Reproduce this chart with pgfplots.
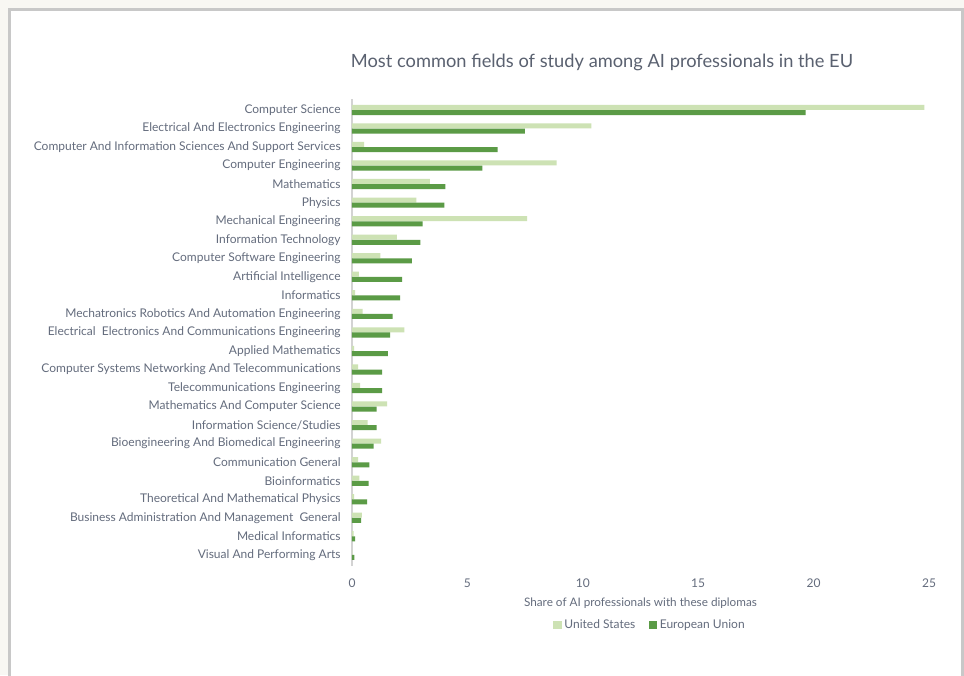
\documentclass[border=0pt]{standalone}
\usepackage{pgfplots}
\pgfplotsset{compat=1.18}
\usepackage{pgfplotstable}
\usepackage{fontspec}
\setmainfont{Lato}

\definecolor{usgreen}{RGB}{205,226,180}
\definecolor{eugreen}{RGB}{91,155,70}
\definecolor{txt}{RGB}{100,108,125}
\definecolor{bgpage}{RGB}{248,247,243}
\definecolor{frame}{RGB}{200,200,200}

% idx: 24 = top row
\pgfplotstableread{
idx us    eu
24  24.80 19.65
23  10.37 7.49
22  0.53  6.31
21  8.87  5.65
20  3.37  4.05
19  2.79  4.00
18  7.59  3.06
17  1.94  2.96
16  1.23  2.59
15  0.30  2.17
14  0.14  2.08
13  0.46  1.76
12  2.27  1.65
11  0.09  1.55
10  0.26  1.30
9   0.35  1.30
8   1.52  1.07
7   0.68  1.07
6   1.26  0.94
5   0.26  0.75
4   0.32  0.72
3   0.09  0.66
2   0.43  0.39
1   0.07  0.14
0   0.02  0.10
}\fields

\begin{document}
\begin{tikzpicture}
\useasboundingbox (0,0) rectangle (723pt,-506.25pt);
\clip (0,0) rectangle (723pt,-506.25pt);
\fill[bgpage] (0,0) rectangle (723pt,-506.25pt);
\filldraw[fill=white, draw=frame, line width=2.25pt] (9.5*0.75pt,-9.5*0.75pt) rectangle (962.5*0.75pt,-720*0.75pt);

\begin{axis}[
    at={(352*0.75pt,-566*0.75pt)}, anchor=south west,
    scale only axis,
    width=432.75pt, height=350.4pt,
    xbar, bar width=0.27,
    xmin=0, xmax=25,
    ymin=-0.6, ymax=24.6,
    xtick={0,5,...,25},
    ytick={0,...,24},
    yticklabels={
      Visual And Performing Arts,
      Medical Informatics,
      Business Administration And Management\ \ General,
      Theoretical And Mathematical Physics,
      Bioinformatics,
      Communication General,
      Bioengineering And Biomedical Engineering,
      Information Science/Studies,
      Mathematics And Computer Science,
      Telecommunications Engineering,
      Computer Systems Networking And Telecommunications,
      Applied Mathematics,
      Electrical\ \ Electronics And Communications Engineering,
      Mechatronics Robotics And Automation Engineering,
      Informatics,
      Artificial Intelligence,
      Computer Software Engineering,
      Information Technology,
      Mechanical Engineering,
      Physics,
      Mathematics,
      Computer Engineering,
      Computer And Information Sciences And Support Services,
      Electrical And Electronics Engineering,
      Computer Science},
    axis lines*=left,
    x axis line style={draw=none},
    y axis line style={draw=frame!80, line width=0.9pt},
    major tick length=0pt,
    tick label style={font=\fontsize{9}{10}\selectfont, text=txt},
    yticklabel style={xshift=-5pt},
    xticklabel style={yshift=-6pt},
    /pgf/number format/assume math mode=true,
    xlabel={Share of AI professionals with these diplomas},
    xlabel style={font=\fontsize{8.8}{10}\selectfont, text=txt, yshift=-1pt},
    legend style={at={(0.517,-0.126)}, anchor=center, draw=none, fill=none,
      legend columns=2, font=\fontsize{9}{10}\selectfont, text=txt,
      /tikz/every even column/.append style={column sep=8pt}},
    legend image code/.code={\fill[#1] (0pt,-3.2pt) rectangle (6.4pt,3.2pt);},
]
\addplot[fill=usgreen, draw=none, bar shift=0.14] table[x=us, y=idx] {\fields};
\addplot[fill=eugreen, draw=none, bar shift=-0.14] table[x=eu, y=idx] {\fields};
\legend{United States, European Union}
\end{axis}

\node[text=txt!90!black, font=\fontsize{13.7}{15}\selectfont] at (602*0.75pt,-62*0.75pt) {Most common fields of study among AI professionals in the EU};
\end{tikzpicture}
\end{document}
